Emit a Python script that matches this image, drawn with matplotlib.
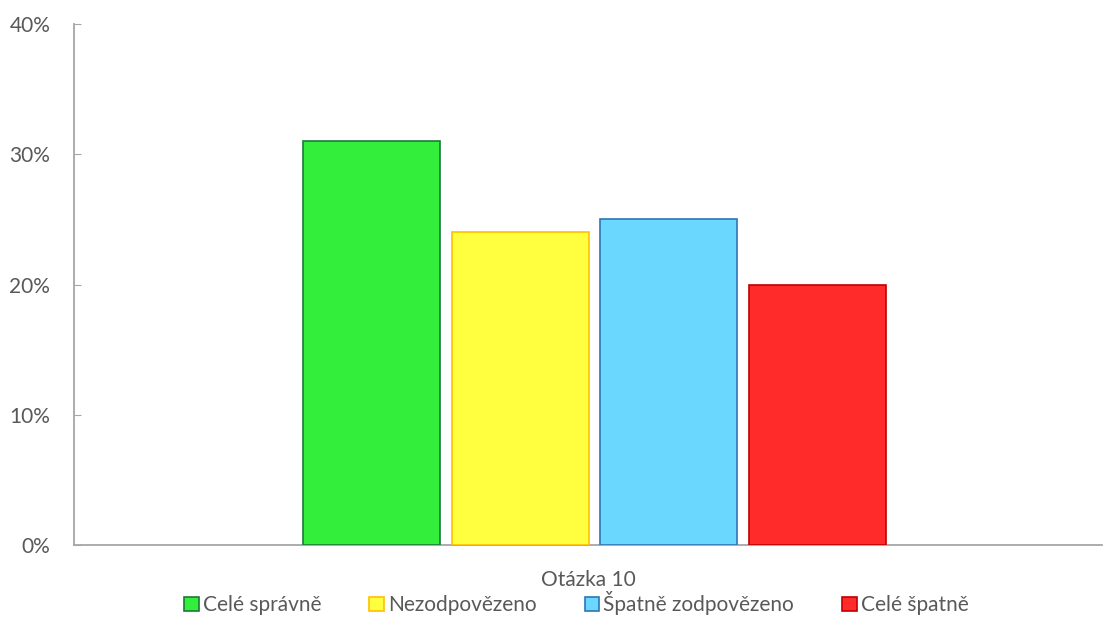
import matplotlib
matplotlib.use("Agg")
import matplotlib.pyplot as plt
from matplotlib.ticker import PercentFormatter
import numpy as np

plt.rcParams['font.family'] = ['Lato', 'DejaVu Sans']

category = 'Otázka 10'
series = ['Celé správně', 'Nezodpovězeno', 'Špatně zodpovězeno', 'Celé špatně']
values = [31, 24, 25, 20]
fills = ['#33ee3a', '#ffff40', '#6ad7ff', '#ff2a2a']
edges = ['#1b7a3a', '#ffc000', '#2e75b6', '#c00000']

fig = plt.figure(figsize=(11.04, 6.39), dpi=100)
ax = fig.add_axes([0.067, 0.147, 0.931, 0.8153])

step = 0.1446
width = 0.1333
for i, (name, v) in enumerate(zip(series, values)):
    x = (i - 1.5) * step + 0.0064
    ax.bar(x, v, width=width, color=fills[i], edgecolor=edges[i],
           linewidth=1.2, label=name, zorder=3)

ax.set_xlim(-0.5, 0.5)
ax.set_ylim(0, 40)
ax.set_yticks([0, 10, 20, 30, 40])
ax.yaxis.set_major_formatter(PercentFormatter(decimals=0))
ax.set_xticks([0])
ax.set_xticklabels([category])

for s in ['top', 'right']:
    ax.spines[s].set_visible(False)
for s in ['left', 'bottom']:
    ax.spines[s].set_color('#a6a6a6')
    ax.spines[s].set_linewidth(1.3)

txt = '#595959'
ax.tick_params(axis='y', direction='in', length=5, color='#a6a6a6',
               labelsize=15, labelcolor=txt, pad=17)
ax.tick_params(axis='x', length=0, labelsize=15, labelcolor=txt, pad=18)

leg = fig.legend(loc='center', bbox_to_anchor=(0.522, 0.056), ncol=4,
                 frameon=False, fontsize=15, handlelength=0.7,
                 handleheight=0.7, handletextpad=0.2, columnspacing=2.3)
for t in leg.get_texts():
    t.set_color(txt)

fig.savefig('out.png', dpi=100)
